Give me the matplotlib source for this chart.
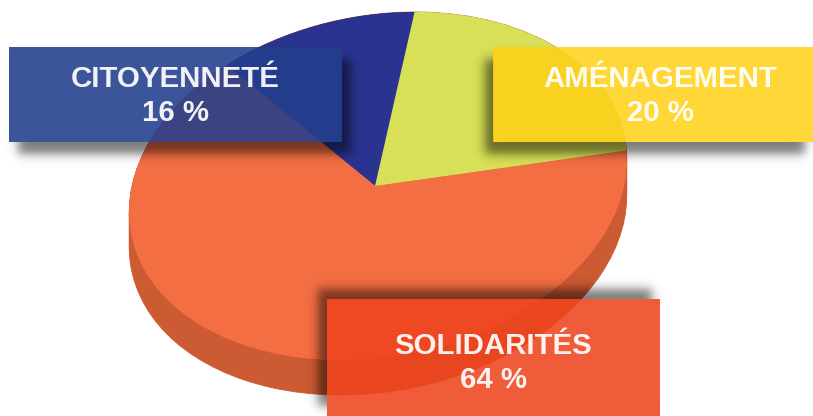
import numpy as np
import matplotlib
matplotlib.use("Agg")
import matplotlib.pyplot as plt
from matplotlib.patches import Rectangle, Circle
from matplotlib.transforms import Affine2D

plt.rcParams['font.family'] = ['Liberation Sans', 'DejaVu Sans']

# Data
categories = ["CITOYENNETÉ", "AMÉNAGEMENT", "SOLIDARITÉS"]
label_percent = [16, 20, 64]
# Slice sizes as they appear in the drawing
drawn_share = [12.8, 21.6, 65.6]
top_colors = ["#2B3390", "#D7E056", "#F46E43"]
side_color = "#CC5A32"
box_colors = ["#233E8C", "#FFD016", "#EE441E"]
box_alpha = [0.885, 0.85, 0.88]
# x0, y0, x1, y1 in pixels
boxes = [(9, 47, 342, 142), (493, 47, 813, 142), (327, 299, 660, 416)]
shadow_offsets = [(9, 12), (-9, 12), (-9, -10)]
text_x = [175.5, 660, 493.5]
text_y = [(79, 113), (79, 113), (346, 380)]
depth_steps = [35, 30, 25, 20, 15, 10, 5, 2, 0]

W, H = 813, 416
fig = plt.figure(figsize=(W / 100, H / 100), dpi=100)
ax = fig.add_axes([0, 0, 1, 1])


def disc_transform(dy):
    # sheared ellipse: the disc is seen in perspective
    return Affine2D(np.array([[246.0, 37.0, 378.0],
                              [0.0, -174.0, 186.0 + dy],
                              [0.0, 0.0, 1.0]])) + ax.transData


for dy in depth_steps:
    wedges, _ = ax.pie(drawn_share, colors=[side_color] * 3, startangle=135.5,
                       counterclock=False, center=(0, 0), radius=1)
    for w in wedges:
        w.set_transform(disc_transform(dy))
        w.set_zorder(1)
        w.set_linewidth(0.6)
        w.set_edgecolor(side_color)

base, _ = ax.pie(drawn_share, colors=top_colors, startangle=135.5,
                 counterclock=False, center=(0, 0), radius=1)
for w in base:
    w.set_transform(disc_transform(0))
    w.set_zorder(2)

wedges, _ = ax.pie(drawn_share, colors=top_colors, startangle=135.5,
                   counterclock=False, center=(-0.012, 0), radius=1.02)
clip = Circle((0, 0), 1, transform=disc_transform(0))
for w in wedges:
    w.set_transform(disc_transform(0))
    w.set_zorder(2.1)
    w.set_clip_on(True)
    w.set_clip_path(clip)

xx, yy = np.meshgrid(np.arange(W) + 0.5, np.arange(H) + 0.5)


def soft(v, s=6.0):
    return 0.5 * (1 + np.tanh(v / s))


for (x0, y0, x1, y1), (ox, oy) in zip(boxes, shadow_offsets):
    a = (soft(xx - (x0 + ox)) * soft((x1 + ox) - xx) *
         soft(yy - (y0 + oy)) * soft((y1 + oy) - yy)) * 0.52
    # the shadow does not show through its own box
    a[(xx > x0) & (xx < x1) & (yy > y0) & (yy < y1)] = 0
    rgba = np.zeros((H, W, 4))
    rgba[..., 3] = a
    ax.imshow(rgba, extent=(0, W, H, 0), aspect='auto', zorder=3,
              interpolation='nearest')

for (x0, y0, x1, y1), c, al in zip(boxes, box_colors, box_alpha):
    ax.add_patch(Rectangle((x0, y0), x1 - x0, y1 - y0, facecolor=c, alpha=al,
                           edgecolor='none', zorder=4))

for name, pct, cx, (ty1, ty2) in zip(categories, label_percent, text_x, text_y):
    ax.text(cx, ty1, name, color='white', fontsize=21.2, fontweight='bold',
            ha='center', va='center', zorder=5, alpha=0.93)
    ax.text(cx, ty2, f"{pct} %", color='white', fontsize=21.2, fontweight='bold',
            ha='center', va='center', zorder=5, alpha=0.93)

ax.set_aspect('auto')
ax.set_xlim(0, W)
ax.set_ylim(H, 0)
ax.set_xticks([])
ax.set_yticks([])
ax.set_frame_on(False)
fig.savefig("out.png", dpi=100, facecolor='white')
